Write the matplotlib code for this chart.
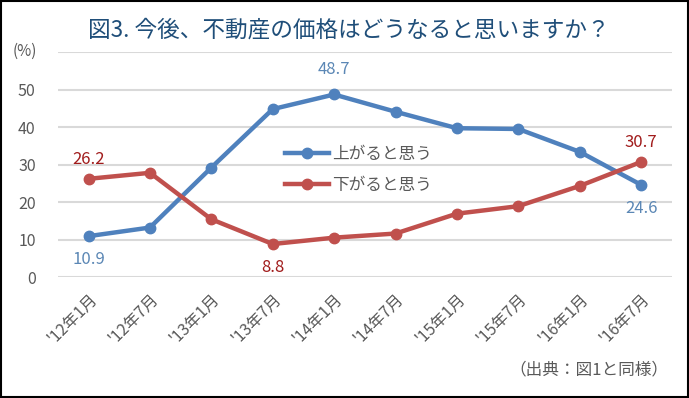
import matplotlib
matplotlib.use("Agg")
import matplotlib.pyplot as plt
from matplotlib.patches import Rectangle
import numpy as np

plt.rcParams['font.family'] = ['Noto Sans CJK JP', 'DejaVu Sans']

periods = ["'12年1月", "'12年7月", "'13年1月", "'13年7月", "'14年1月",
           "'14年7月", "'15年1月", "'15年7月", "'16年1月", "'16年7月"]
up = [10.9, 13.2, 29.2, 44.8, 48.7, 44.1, 39.7, 39.5, 33.4, 24.6]
down = [26.2, 27.8, 15.4, 8.8, 10.5, 11.6, 16.9, 18.9, 24.3, 30.7]

blue = "#4F81BD"
red = "#C0504D"
blue_txt = "#5B87B5"
red_txt = "#A11C1C"
gray = "#595959"

fig = plt.figure(figsize=(6.89, 3.98), dpi=100)
ax = fig.add_axes([0.084, 0.304, 0.891, 0.565])

x = np.arange(len(periods))
ax.plot(x, up, color=blue, lw=3.2, marker='o', ms=7.5, label="上がると思う", zorder=3)
ax.plot(x, down, color=red, lw=3.2, marker='o', ms=7.5, label="下がると思う", zorder=3)

ax.set_xlim(-0.5, len(periods) - 0.5)
ax.set_ylim(0, 60)
ax.set_yticks([0, 10, 20, 30, 40, 50, 60])
ax.set_yticklabels(["0", "10", "20", "30", "40", "50", ""])
ax.yaxis.grid(True, color="#D9D9D9", lw=1.5)
ax.set_axisbelow(True)
for s in ax.spines.values():
    s.set_visible(False)
ax.tick_params(axis='both', length=0, colors=gray, labelsize=11.5)
ax.tick_params(axis='y', pad=16)
ax.set_xticks(x)
ax.set_xticklabels(periods, rotation=45, ha='right', rotation_mode='anchor')
ax.tick_params(axis='x', pad=10)

# data labels
lab = dict(fontsize=12, ha='center')
ax.text(4, up[4] + 4.5, "48.7", color=blue_txt, va='bottom', **lab)
ax.text(0, up[0] - 4, "10.9", color=blue_txt, va='top', **lab)
ax.text(9, up[9] - 4, "24.6", color=blue_txt, va='top', **lab)
ax.text(0, down[0] + 3, "26.2", color=red_txt, va='bottom', **lab)
ax.text(3, down[3] - 4, "8.8", color=red_txt, va='top', **lab)
ax.text(9, down[9] + 3, "30.7", color=red_txt, va='bottom', **lab)

leg = ax.legend(loc='center', bbox_to_anchor=(0.49, 0.475), frameon=False,
                fontsize=12, handlelength=2.6, labelspacing=0.85, handletextpad=0.2)
for t in leg.get_texts():
    t.set_color(gray)

fig.text(0.506, 0.925, "図3. 今後、不動産の価格はどうなると思いますか？",
         ha='center', va='center', fontsize=16.3, color="#1F4E79")
fig.text(0.018, 0.87, "(%)", ha='left', va='center', fontsize=11, color=gray)
fig.text(0.97, 0.07, "（出典：図1と同様）", ha='right', va='center', fontsize=12, color=gray)

fig.add_artist(Rectangle((0.001, 0.002), 0.997, 0.995, transform=fig.transFigure,
                         fill=False, edgecolor='black', lw=1.5))

fig.savefig("out.png", dpi=100)
